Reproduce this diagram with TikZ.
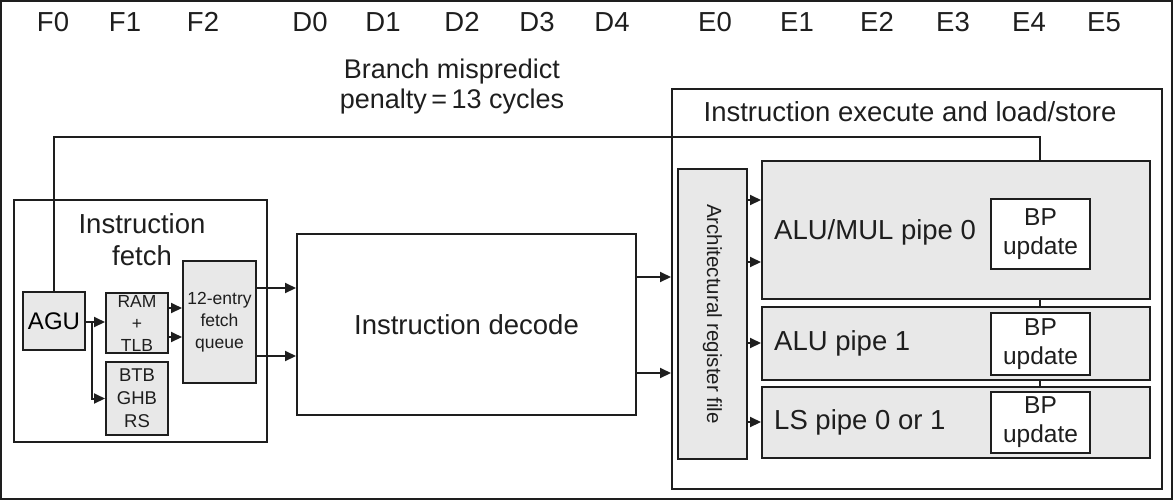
\documentclass[tikz,border=0pt]{standalone}
\usepackage{fontspec}
\setmainfont{Liberation Sans}
\usetikzlibrary{arrows.meta,calc}
\definecolor{ln}{HTML}{1E1E1E}
\definecolor{gfill}{HTML}{E8E8E8}
\tikzset{
  blk/.style={draw=ln, line width=2pt, inner sep=0pt, anchor=center},
  gblk/.style={blk, fill=gfill},
  wblk/.style={blk, fill=white},
  arr/.style={draw=ln, line width=2pt, -{Triangle[length=11pt,width=10pt]}},
  wire/.style={draw=ln, line width=2pt},
  big/.style={font=\fontsize{27.5}{32}\selectfont, text=ln, inner sep=0pt},
  small/.style={font=\fontsize{17.5}{22}\selectfont, text=ln, inner sep=0pt, align=center},
  stage/.style={font=\fontsize{27.5}{32}\selectfont, text=ln, inner sep=0pt}
}
\begin{document}
\begin{tikzpicture}[x=1pt,y=-1pt]
\useasboundingbox (0,0) rectangle (1174,501);
\draw[draw=ln, line width=1.5pt] (1,1) rectangle (1172,499);

% stage labels
\foreach \n/\x in {F0/53,F1/125,F2/203,D0/310,D1/383,D2/462,D3/537,D4/612,E0/715,E1/797,E2/877,E3/953,E4/1029,E5/1104}
  \node[stage] (st\n) at (\x,22) {\n};

\node[big, align=center, font=\fontsize{27}{30}\selectfont] (bmp) at (452,87) {Branch mispredict\\penalty\,=\,13 cycles};

% instruction fetch
\node[blk, fill=white, minimum width=253pt, minimum height=242pt] (fetch) at (140.5,321) {};
\node[big, align=center] (fetchlbl) at (142,240) {Instruction\\fetch};
\node[gblk, minimum width=62pt, minimum height=58pt, font=\fontsize{24}{26}\selectfont] (agu) at (54,321) {AGU};
\node[gblk, minimum width=62pt, minimum height=60pt, small] (ram) at (137,323) {RAM\\+\\TLB};
\node[gblk, minimum width=62pt, minimum height=73pt, small, font=\fontsize{18.5}{23}\selectfont] (btb) at (137,398.5) {BTB\\GHB\\RS};
\node[gblk, minimum width=73pt, minimum height=122pt, small] (queue) at (219.5,322) {12-entry\\fetch\\queue};

% decode
\node[wblk, minimum width=339pt, minimum height=181pt, big] (decode) at (466.5,324.5) {Instruction decode};

% execute
\node[blk, minimum width=490pt, minimum height=400pt] (exec) at (917,289) {};
\node[big] (execlbl) at (910,112) {Instruction execute and load/store};
\node[gblk, minimum width=69pt, minimum height=290pt] (regfile) at (712.5,314) {};
\node[font=\fontsize{20.5}{24}\selectfont, text=ln, inner sep=0pt, rotate=-90] (reglbl) at (regfile.center) {Architectural register file};

\node[gblk, minimum width=388pt, minimum height=138pt] (pipe0) at (956,230) {};
\node[gblk, minimum width=388pt, minimum height=73pt] (pipe1) at (956,343.5) {};
\node[gblk, minimum width=388pt, minimum height=71pt] (pipe2) at (956,422.5) {};
\node[big, anchor=west] (p0lbl) at (774,232) {ALU/MUL pipe 0};
\node[big, anchor=west] (p1lbl) at (774,343) {ALU pipe 1};
\node[big, anchor=west] (p2lbl) at (774,422) {LS pipe 0 or 1};
\node[wblk, minimum width=99pt, minimum height=70pt, align=center, font=\fontsize{24.5}{29}\selectfont, text=ln] (bp0) at (1040.5,234) {BP\\update};
\node[wblk, minimum width=99pt, minimum height=62pt, align=center, font=\fontsize{24.5}{29}\selectfont, text=ln] (bp1) at (1040.5,344) {BP\\update};
\node[wblk, minimum width=99pt, minimum height=61pt, align=center, font=\fontsize{24.5}{29}\selectfont, text=ln] (bp2) at (1040.5,422.5) {BP\\update};

% feedback path
\coordinate (fbtop) at (1040,137);
\draw[wire] (agu.north) |- (fbtop) -- (fbtop |- pipe0.north);
\draw[wire] (fbtop |- pipe0.south) -- (fbtop |- pipe1.north);
\draw[wire] (fbtop |- pipe1.south) -- (fbtop |- pipe2.north);

% fetch arrows
\draw[arr] (agu.east |- 0,322) -- (ram.west |- 0,322);
\coordinate (split) at (92,322);
\draw[arr] (split) |- (btb.west);
\draw[arr] (ram.east |- 0,308) -- (queue.west |- 0,308);
\draw[arr] (ram.east |- 0,337) -- (queue.west |- 0,337);
\draw[arr] (queue.east |- 0,288) -- (decode.west |- 0,288);
\draw[arr] (queue.east |- 0,356) -- (decode.west |- 0,356);
\draw[arr] (decode.east |- 0,277) -- (exec.west |- 0,277);
\draw[arr] (decode.east |- 0,373) -- (exec.west |- 0,373);
\draw[arr] (regfile.east |- 0,200) -- (pipe0.west |- 0,200);
\draw[arr] (regfile.east |- 0,262) -- (pipe0.west |- 0,262);
\draw[arr] (regfile.east |- 0,343) -- (pipe1.west |- 0,343);
\draw[arr] (regfile.east |- 0,422) -- (pipe2.west |- 0,422);
\end{tikzpicture}
\end{document}
